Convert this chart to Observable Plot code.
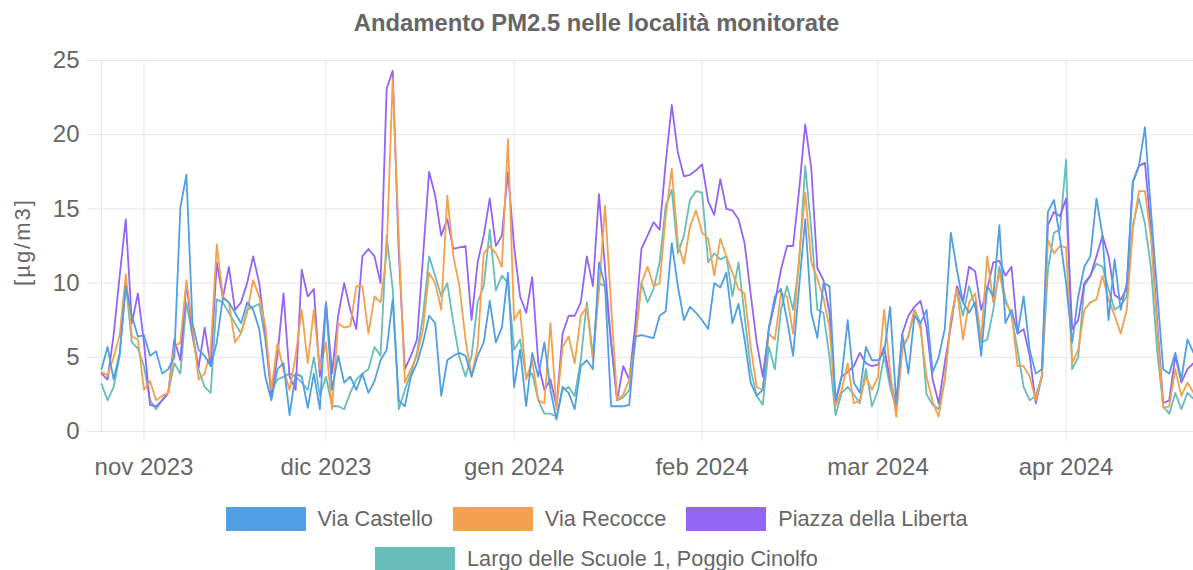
<!DOCTYPE html>
<html><head><meta charset="utf-8">
<script src="https://cdn.jsdelivr.net/npm/d3@7"></script>
<script src="https://cdn.jsdelivr.net/npm/@observablehq/plot@0.6"></script>
<style>
body{margin:0;background:#fff;font-family:"Liberation Sans",Arial,sans-serif;color:#666;}
#title{height:45px;line-height:45px;text-align:center;font-weight:bold;font-size:23.8px;color:#666;}
#legend{padding-top:9px;}
.legend-row{display:flex;justify-content:center;align-items:center;height:40px;font-size:21.7px;color:#666;}
.item{display:flex;align-items:center;margin:0 10px;}
.sw{width:80px;height:24px;margin-right:12px;}
</style></head><body>
<div id="title">Andamento PM2.5 nelle località monitorate</div>
<div id="chart"></div>
<div id="legend"></div>
<script>
const startDate = "2023-10-25";
const endDate = "2024-04-22";
const seriesNames = ["Via Castello", "Via Recocce", "Piazza della Liberta", "Largo delle Scuole 1, Poggio Cinolfo"];
const monthTicks = ["2023-11-01", "2023-12-01", "2024-01-01", "2024-02-01", "2024-03-01", "2024-04-01"];
const monthLabels = ["nov 2023", "dic 2023", "gen 2024", "feb 2024", "mar 2024", "apr 2024"];
const yTicks = [0, 5, 10, 15, 20, 25];
const yLabel = "[µg/m3]";

const viaCastello = [
 4.2, 5.7, 3.5, 5.3, 9.8, 7.8, 6.4, 6.5, 5.1, 5.4,
 3.9, 4.2, 5.0, 15.1, 17.3, 7.3, 5.5, 5.1, 4.4, 6.0,
 9.0, 8.7, 8.0, 7.3, 8.7, 8.2, 6.9, 3.7, 2.1, 4.2,
 4.6, 1.1, 3.9, 3.7, 1.6, 3.9, 1.5, 8.7, 2.8, 5.1,
 3.3, 3.7, 2.8, 3.9, 2.6, 3.4, 4.8, 5.5, 8.9, 2.1,
 1.7, 3.7, 4.6, 6.0, 7.8, 7.3, 2.4, 4.8, 5.1, 5.3,
 5.1, 3.7, 5.1, 6.0, 8.8, 6.0, 7.0, 10.7, 3.0, 5.5,
 1.7, 5.3, 3.7, 6.0, 2.8, 0.8, 3.0, 2.6, 1.5, 4.4,
 4.8, 4.2, 11.4, 9.8, 1.7, 1.7, 1.7, 1.8, 6.4, 6.5,
 6.4, 6.3, 7.8, 8.1, 12.7, 9.8, 7.5, 8.4, 8.0, 7.5,
 6.9, 10.0, 9.7, 10.7, 7.3, 8.6, 6.2, 3.3, 2.4, 2.8,
 7.0, 9.1, 9.6, 7.5, 5.1, 9.8, 14.3, 8.0, 6.3, 10.0,
 9.8, 2.1, 3.7, 7.5, 3.3, 2.6, 5.7, 4.8, 4.8, 5.3,
 8.4, 1.9, 6.6, 3.9, 7.8, 7.3, 8.2, 4.0, 5.0, 6.9,
 13.4, 10.9, 8.7, 8.0, 8.7, 5.1, 9.8, 9.1, 13.9, 7.3,
 8.2, 6.6, 9.1, 5.5, 3.9, 4.2, 14.8, 15.6, 13.0, 10.0,
 6.0, 9.1, 11.1, 11.8, 15.7, 13.2, 7.5, 11.6, 8.2, 10.0,
 16.8, 17.9, 20.5, 14.8, 9.5, 4.2, 3.9, 5.3, 3.5, 6.2, 5.3
];
const viaRecocce = [
 4.0, 3.8, 5.0, 6.5, 10.6, 6.4, 6.2, 2.8, 3.4, 2.1,
 2.4, 2.6, 5.7, 6.0, 10.2, 7.1, 3.5, 3.9, 5.5, 12.6,
 9.1, 8.7, 6.0, 6.6, 8.0, 10.2, 9.1, 7.1, 2.8, 5.9,
 4.2, 2.8, 5.1, 8.2, 4.6, 8.2, 4.2, 6.0, 1.5, 7.3,
 7.0, 7.1, 9.8, 9.8, 6.6, 9.1, 8.7, 12.0, 23.8, 13.0,
 3.3, 4.2, 5.1, 6.9, 10.7, 10.0, 8.2, 15.9, 11.8, 9.8,
 6.2, 3.7, 5.7, 12.0, 12.5, 12.0, 11.1, 19.7, 7.5, 8.2,
 3.5, 4.8, 2.1, 1.9, 7.3, 1.5, 5.7, 6.4, 4.6, 7.8,
 8.4, 4.8, 9.5, 15.2, 8.5, 2.1, 2.5, 3.5, 6.0, 10.0,
 11.1, 9.8, 10.0, 14.5, 17.7, 12.7, 11.3, 13.8, 14.9, 13.4,
 13.0, 10.5, 13.0, 11.8, 10.7, 9.6, 9.3, 5.7, 3.0, 2.8,
 6.6, 6.2, 9.3, 9.1, 6.6, 11.8, 16.1, 11.4, 10.3, 9.0,
 7.0, 1.7, 2.8, 4.6, 1.9, 2.1, 3.7, 2.8, 3.7, 8.2,
 4.0, 1.0, 5.5, 6.4, 8.2, 6.9, 3.7, 2.0, 1.0, 3.5,
 7.5, 9.6, 6.2, 8.7, 9.3, 6.2, 11.8, 8.7, 10.7, 8.7,
 8.0, 4.4, 4.4, 3.7, 2.1, 3.7, 12.9, 12.0, 12.5, 12.4,
 4.6, 5.5, 8.2, 8.7, 8.9, 10.5, 8.9, 7.8, 6.6, 8.2,
 13.6, 16.2, 16.2, 13.0, 7.0, 1.6, 1.7, 4.2, 2.4, 3.3, 2.6
];
const piazzaLiberta = [
 3.9, 3.5, 6.5, 10.5, 14.3, 7.3, 9.3, 6.0, 1.8, 1.7,
 2.1, 2.6, 6.2, 4.8, 10.0, 6.6, 4.3, 7.0, 4.4, 11.4,
 9.0, 11.1, 8.2, 8.7, 10.0, 11.8, 10.0, 6.6, 2.3, 5.1,
 9.3, 3.7, 2.8, 10.9, 9.1, 9.6, 3.7, 8.7, 3.9, 7.8,
 10.0, 8.2, 6.9, 11.8, 12.3, 11.8, 10.0, 23.1, 24.3, 12.0,
 4.2, 5.1, 6.2, 11.8, 17.5, 15.9, 13.2, 14.3, 12.3, 12.4,
 12.5, 7.5, 11.4, 13.2, 15.7, 12.5, 13.2, 17.5, 12.5, 9.1,
 8.0, 10.4, 4.6, 2.8, 3.5, 1.7, 6.6, 7.8, 7.8, 8.7,
 11.8, 9.8, 16.0, 11.0, 6.0, 2.1, 4.4, 3.5, 7.3, 12.3,
 13.2, 14.1, 13.6, 18.1, 22.0, 18.8, 17.2, 17.3, 17.6, 18.0,
 15.5, 14.6, 17.0, 15.0, 14.9, 14.3, 12.7, 9.3, 6.0, 3.7,
 6.9, 8.7, 10.9, 12.5, 12.5, 16.3, 20.7, 17.7, 11.0, 10.2,
 8.0, 1.9, 3.7, 4.0, 4.4, 5.3, 4.6, 4.4, 4.5, 5.7,
 3.5, 1.8, 6.6, 7.8, 8.4, 8.8, 7.0, 3.5, 1.9, 4.6,
 7.1, 9.8, 8.7, 11.1, 10.8, 8.2, 9.6, 11.4, 11.5, 10.5,
 11.1, 6.6, 6.9, 5.1, 1.9, 3.7, 13.9, 14.8, 14.5, 15.7,
 6.9, 7.5, 10.0, 10.5, 11.8, 13.2, 11.8, 9.2, 8.9, 9.6,
 16.8, 17.9, 18.1, 13.5, 7.5, 1.9, 2.1, 5.1, 3.3, 4.2, 4.6
];
const largoScuole = [
 3.2, 2.1, 3.0, 5.1, 10.0, 6.0, 5.6, 4.4, 2.1, 1.5,
 2.1, 2.6, 4.6, 3.9, 8.7, 6.4, 4.2, 3.0, 2.6, 8.9,
 8.7, 8.0, 7.3, 6.6, 8.2, 8.4, 8.6, 6.2, 2.8, 3.5,
 3.7, 3.9, 3.7, 3.3, 2.8, 5.0, 2.4, 3.7, 1.7, 1.7,
 1.5, 2.6, 3.5, 3.9, 4.2, 5.7, 5.1, 13.2, 9.6, 1.5,
 2.8, 3.9, 5.3, 7.8, 11.8, 10.5, 9.1, 10.0, 7.3, 5.0,
 3.7, 5.1, 8.7, 9.8, 13.6, 9.5, 10.5, 10.0, 5.5, 6.2,
 3.7, 3.9, 2.1, 1.2, 1.2, 1.0, 2.8, 3.0, 2.4, 4.8,
 8.7, 5.1, 10.0, 9.8, 6.0, 2.1, 2.3, 2.8, 6.5, 10.0,
 8.7, 9.6, 11.4, 15.2, 16.3, 12.0, 13.2, 15.6, 16.2, 16.1,
 11.4, 12.0, 11.6, 11.8, 9.1, 11.4, 7.8, 4.2, 2.4, 1.8,
 5.7, 4.2, 8.2, 9.8, 8.2, 11.4, 17.9, 13.6, 8.2, 8.0,
 5.0, 1.1, 2.6, 3.0, 2.5, 1.9, 4.2, 1.7, 2.8, 5.1,
 3.0, 1.5, 5.7, 6.4, 8.2, 7.3, 2.5, 1.8, 1.5, 3.5,
 7.5, 9.6, 7.8, 9.8, 8.4, 6.0, 6.2, 8.2, 11.1, 8.9,
 7.8, 5.5, 3.0, 2.1, 2.4, 3.7, 10.9, 13.4, 13.6, 18.3,
 4.2, 5.0, 9.8, 10.5, 11.3, 11.1, 9.6, 8.2, 8.5, 9.1,
 13.9, 15.7, 14.0, 11.0, 5.5, 1.7, 1.2, 2.6, 1.5, 2.6, 2.2
];

const seriesValues = [viaCastello, viaRecocce, piazzaLiberta, largoScuole];
const colors = ["#509fe5", "#f3a04f", "#9464f5", "#66bdb9"];
const grid = "#e6e6e6";
const textColor = "#666";
const font = "'Liberation Sans', Arial, sans-serif";

const start = new Date(startDate + "T00:00:00Z");
const end = new Date(endDate + "T00:00:00Z");
const monthDates = monthTicks.map(s => new Date(s + "T00:00:00Z"));

// draw order: last series first, first series on top
const rows = [];
for (let s = seriesNames.length - 1; s >= 0; s--) {
  seriesValues[s].forEach((v, i) => rows.push({series: seriesNames[s], date: d3.utcDay.offset(start, i), value: v}));
}

const chart = Plot.plot({
  width: 1193,
  height: 445,
  marginTop: 15,
  marginBottom: 59,
  marginLeft: 101,
  marginRight: 0,
  style: {fontFamily: font, fontSize: "24px", color: textColor, background: "#fff"},
  x: {type: "utc", domain: [start, end]},
  y: {domain: [0, 25]},
  color: {domain: seriesNames, range: colors},
  marks: [
    Plot.gridY(yTicks, {stroke: grid, strokeOpacity: 1}),
    Plot.gridX(monthDates, {stroke: grid, strokeOpacity: 1}),
    Plot.ruleX([start], {stroke: grid, strokeOpacity: 1}),
    Plot.axisY(yTicks, {tickSize: 14, tickPadding: 8, stroke: grid, strokeOpacity: 1, fill: textColor, fontSize: 24, label: null}),
    Plot.axisX(monthDates, {tickSize: 10, tickPadding: 16, stroke: grid, strokeOpacity: 1, fill: textColor, fontSize: 24, label: null,
      tickFormat: d => monthLabels[monthDates.findIndex(m => +m === +d)]}),
    Plot.text([yLabel], {text: d => d, frameAnchor: "left", textAnchor: "middle", lineAnchor: "middle", dx: -79, dy: -4, rotate: -90, fontSize: 22, fill: textColor, style: "letter-spacing:2px"}),
    Plot.line(rows, {x: "date", y: "value", stroke: "series", z: "series", strokeWidth: 1.8, curve: "linear"})
  ]
});
document.getElementById("chart").appendChild(chart);
chart.querySelectorAll("text").forEach(t => { if (t.textContent === yLabel) t.setAttribute("letter-spacing", "2"); });

const legend = document.getElementById("legend");
const rowsDef = [[0, 1, 2], [3]];
rowsDef.forEach(r => {
  const row = document.createElement("div");
  row.className = "legend-row";
  r.forEach(i => {
    const it = document.createElement("div");
    it.className = "item";
    const sw = document.createElement("div");
    sw.className = "sw";
    sw.style.background = colors[i];
    const tx = document.createElement("span");
    tx.textContent = seriesNames[i];
    it.appendChild(sw); it.appendChild(tx);
    row.appendChild(it);
  });
  legend.appendChild(row);
});
</script></body></html>
